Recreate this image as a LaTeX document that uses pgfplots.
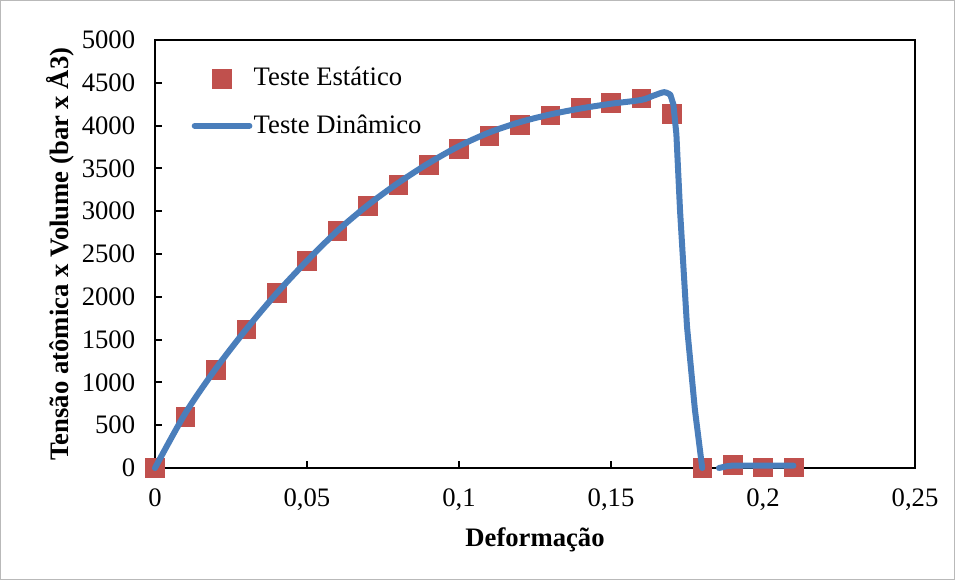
\documentclass[border=0pt]{standalone}
\usepackage{fontspec}
\setmainfont{Liberation Serif}
\usepackage{pgfplots}
\pgfplotsset{compat=1.18}
\definecolor{xlred}{HTML}{C0504D}
\definecolor{xlblue}{HTML}{4A7EBB}
\newcommand{\chartfont}{\fontsize{20}{24}\selectfont}
\pgfplotsset{
  markleg/.style={legend image code/.code={%
    \draw[mark repeat=2,mark phase=2,##1] plot coordinates {(0pt,0pt)(20.5pt,0pt)(41pt,0pt)};}},
  lineleg/.style={legend image code/.code={%
    \draw[##1] (0pt,0pt) -- (41pt,0pt);}},
}

\begin{document}
\chartfont
\begin{tikzpicture}
  % outer chart border (955x580 px at 0.75pt/px)
  \draw[gray!55, line width=0.75pt] (-115.85pt,-83.6pt) rectangle (599.6pt,350.6pt);
  \begin{axis}[
      set layers,
      width=570pt, height=321pt, scale only axis,
      xmin=0, xmax=0.25, ymin=0, ymax=5000,
      clip=false,
      xtick={0,0.05,0.1,0.15,0.2,0.25},
      xticklabels={0,{0,05},{0,1},{0,15},{0,2},{0,25}},
      ytick={0,500,1000,1500,2000,2500,3000,3500,4000,4500,5000},
      yticklabels={0,500,1000,1500,2000,2500,3000,3500,4000,4500,5000},
      tick align=inside, xtick pos=bottom, ytick pos=left,
      major tick length=5pt,
      axis line style={line width=1.5pt},
      tick style={line width=1.5pt, black},
      tick label style={font=\chartfont},
      xticklabel style={yshift=-9pt},
      yticklabel style={xshift=-8pt},
      xlabel={\textbf{Deformação}},
      ylabel={\textbf{Tensão atômica x Volume (bar x Å3)}},
      every axis x label/.style={at={(axis description cs:0.5,-0.168)}, anchor=center, font=\chartfont},
      every axis y label/.style={at={(axis description cs:-0.125,0.5)}, anchor=center, rotate=90, font=\chartfont},
      legend style={draw=none, fill=none, at={(axis description cs:0.048,0.94)},
        anchor=north west, row sep=16.5pt, inner sep=0pt, font=\chartfont,
        nodes={inner sep=1pt}},
      legend cell align=left,
    ]
    \addplot[only marks, mark=square*, mark size=7pt, xlred,
      mark options={draw=xlred, fill=xlred}, markleg]
      coordinates {
        (0,0) (0.01,600) (0.02,1150) (0.03,1620) (0.04,2050) (0.05,2420)
        (0.06,2770) (0.07,3060) (0.08,3310) (0.09,3540) (0.10,3730)
        (0.11,3880) (0.12,4010) (0.13,4120) (0.14,4210) (0.15,4270)
        (0.16,4320) (0.17,4140) (0.18,0) (0.19,40) (0.20,10) (0.21,10)
      };
    \addlegendentry{Teste Estático}
    \addplot[xlblue, line width=4.5pt, smooth, line cap=round, line join=round,
      lineleg, on layer=axis foreground]
      coordinates {
        (0,0) (0.01,640) (0.02,1160) (0.03,1620) (0.04,2040) (0.05,2420)
        (0.06,2770) (0.07,3070) (0.08,3330) (0.09,3560) (0.10,3760)
        (0.11,3920) (0.12,4040) (0.13,4130) (0.14,4200) (0.15,4255)
        (0.16,4300) (0.164,4350) (0.1675,4390) (0.1695,4360)
      };
    \addlegendentry{Teste Dinâmico}
    \addplot[xlblue, line width=4.5pt, line cap=round, line join=round,
      forget plot, on layer=axis foreground]
      coordinates {
        (0.1695,4360) (0.1705,4250) (0.1715,3900) (0.1727,3010) (0.175,1650)
        (0.1776,680) (0.18,0)
      };
    \addplot[xlblue, line width=4.5pt, line cap=round, line join=round,
      forget plot, on layer=axis foreground]
      coordinates {
        (0.1855,0) (0.188,20) (0.19,28) (0.21,28)
      };
  \end{axis}
\end{tikzpicture}
\end{document}
